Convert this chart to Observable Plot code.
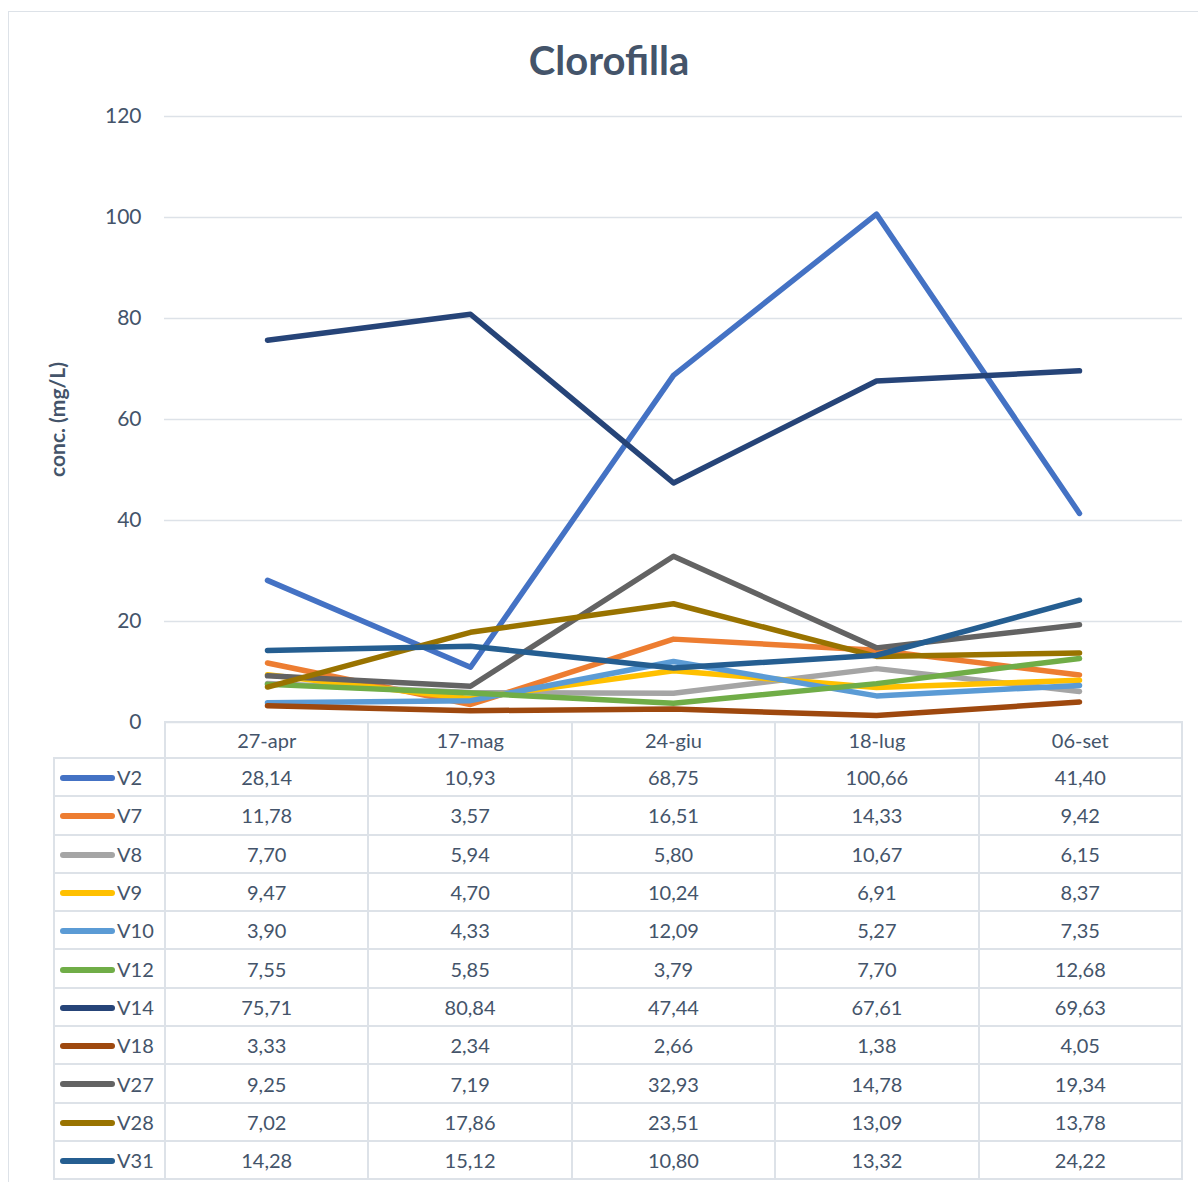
<!DOCTYPE html>
<html>
<head>
<meta charset="utf-8">
<script src="https://cdn.jsdelivr.net/npm/d3@7"></script>
<script src="https://cdn.jsdelivr.net/npm/@observablehq/plot@0.6"></script>
<style>
  html, body { margin: 0; padding: 0; background: #fff; }
  body { width: 1198px; height: 1182px; position: relative; overflow: hidden; font-family: Lato, "Open Sans", sans-serif; color: #44546A; }
  #frame { position: absolute; left: 8px; top: 11px; width: 1300px; height: 1300px; border: 1.5px solid #dde2e8; }
  #title { position: absolute; left: 0; width: 1218px; top: 36px; text-align: center; font-weight: 700; font-size: 40px; color: #44546A; line-height: 48px; }
  #chart { position: absolute; left: 0; top: 90px; }
  #table { position: absolute; left: 53px; top: 721px; width: 1130px; table-layout: fixed; border-collapse: collapse; font-size: 20px; color: #44546A; }
  #table td { border: 2px solid #dde2e8; text-align: center; padding: 0; height: 36.3px; overflow: hidden; }
  #table tr.head td { height: 34px; }
  #table tr.head td.corner { border-left: none; border-top: none; border-bottom: 2px solid #dde2e8; }
  #table td.key { text-align: left; white-space: nowrap; }
  .swatch { display: inline-block; width: 55px; height: 6px; border-radius: 3px; vertical-align: middle; margin: 0 2px 0 5px; position: relative; top: -2px; }
</style>
</head>
<body>
<div id="frame"></div>
<div id="title">Clorofilla</div>
<div id="chart"></div>
<table id="table"><colgroup><col style="width:111px"><col style="width:203.4px"><col style="width:203.4px"><col style="width:203.4px"><col style="width:203.4px"><col style="width:203.4px"></colgroup></table>
<script>
// Sampling dates
const dates = ["27-apr", "17-mag", "24-giu", "18-lug", "06-set"];

// Stations and their line colours
const stations = ["V2", "V7", "V8", "V9", "V10", "V12", "V14", "V18", "V27", "V28", "V31"];
const colors = ["#4472C4", "#ED7D31", "#A5A5A5", "#FFC000", "#5B9BD5", "#70AD47", "#264478", "#9E480E", "#636363", "#997300", "#255E91"];

// Chlorophyll concentration (mg/L) per station, one value per date
const V2  = [28.14, 10.93, 68.75, 100.66, 41.40];
const V7  = [11.78, 3.57, 16.51, 14.33, 9.42];
const V8  = [7.70, 5.94, 5.80, 10.67, 6.15];
const V9  = [9.47, 4.70, 10.24, 6.91, 8.37];
const V10 = [3.90, 4.33, 12.09, 5.27, 7.35];
const V12 = [7.55, 5.85, 3.79, 7.70, 12.68];
const V14 = [75.71, 80.84, 47.44, 67.61, 69.63];
const V18 = [3.33, 2.34, 2.66, 1.38, 4.05];
const V27 = [9.25, 7.19, 32.93, 14.78, 19.34];
const V28 = [7.02, 17.86, 23.51, 13.09, 13.78];
const V31 = [14.28, 15.12, 10.80, 13.32, 24.22];

const yTicks = [0, 20, 40, 60, 80, 100, 120];
const yLabel = "conc. (mg/L)";

const valuesBy = {V2, V7, V8, V9, V10, V12, V14, V18, V27, V28, V31};
const rows = stations.flatMap(s => valuesBy[s].map((v, i) => ({station: s, date: dates[i], value: v})));

const textColor = "#44546A";
const gridColor = "#dde2e8";

const plot = Plot.plot({
  width: 1198,
  height: 640,
  marginTop: 26,
  marginBottom: 8,
  marginLeft: 164,
  marginRight: 16,
  style: {fontFamily: "Lato, 'Open Sans', sans-serif", fontSize: "21px", color: textColor, background: "transparent", overflow: "visible"},
  x: {type: "point", domain: dates, padding: 0.5, axis: null},
  y: {domain: [0, 120], ticks: yTicks, label: null},
  color: {domain: stations, range: colors},
  marks: [
    Plot.gridY(yTicks, {stroke: gridColor, strokeOpacity: 1, strokeWidth: 1.6}),
    Plot.axisY(yTicks, {tickSize: 0, tickPadding: 23, fill: textColor, fontSize: 21, label: null}),
    Plot.text([yLabel], {frameAnchor: "left", textAnchor: "middle", rotate: -90, dx: -106, fontWeight: "bold", fontSize: 21, fill: textColor}),
    Plot.line(rows, {x: "date", y: "value", z: "station", stroke: "station", strokeWidth: 5.5, strokeLinecap: "round", strokeLinejoin: "round"})
  ]
});
document.getElementById("chart").append(plot);

// Data table below the chart, with a line key per station
const fmt = v => v.toFixed(2).replace(".", ",");
const table = d3.select("#table");
const head = table.append("tr").attr("class", "head");
head.append("td").attr("class", "corner");
dates.forEach(d => head.append("td").text(d));
stations.forEach((s, i) => {
  const tr = table.append("tr");
  const key = tr.append("td").attr("class", "key");
  key.append("span").attr("class", "swatch").style("background", colors[i]);
  key.append("span").text(s);
  valuesBy[s].forEach(v => tr.append("td").text(fmt(v)));
});
</script>
</body>
</html>
